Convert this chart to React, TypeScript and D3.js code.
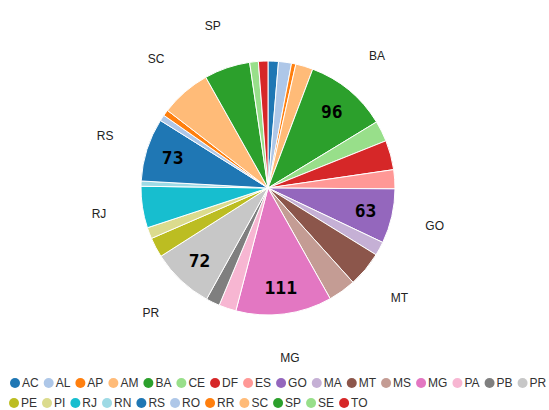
import React, { useRef, useEffect } from 'react';
import * as d3 from 'd3';

const states = ['AC', 'AL', 'AP', 'AM', 'BA', 'CE', 'DF', 'ES', 'GO', 'MA', 'MT', 'MS', 'MG', 'PA', 'PB', 'PR',
  'PE', 'PI', 'RJ', 'RN', 'RS', 'RO', 'RR', 'SC', 'SP', 'SE', 'TO'];
const counts = [12, 15, 5, 20, 96, 24, 34, 22, 63, 16, 41, 32, 111, 20, 16, 72,
  23, 13, 48, 6, 73, 7, 7, 58, 53, 10, 11];

// old d3 category20
const palette = ['#1f77b4', '#aec7e8', '#ff7f0e', '#ffbb78', '#2ca02c', '#98df8a', '#d62728', '#ff9896',
  '#9467bd', '#c5b0d5', '#8c564b', '#c49c94', '#e377c2', '#f7b6d2', '#7f7f7f', '#c7c7c7',
  '#bcbd22', '#dbdb8d', '#17becf', '#9edae5'];

const App = () => {
  const svgRef = useRef(null);

  useEffect(() => {
    d3.select(svgRef.current).selectAll('*').remove();
    const svg = d3.select(svgRef.current);
    const width = 549;
    const cx = 268;
    const cy = 188;
    const radius = 127;

    const data = states.map((s, i) => ({ name: s, value: counts[i] }));
    const color = d3.scaleOrdinal().domain(states).range(palette);

    const pie = d3.pie().sort(null).value(d => d.value);
    const arc = d3.arc().innerRadius(0).outerRadius(radius);
    const valueArc = d3.arc().innerRadius(100).outerRadius(100);
    const nameArc = d3.arc().innerRadius(171).outerRadius(171);
    const arcs = pie(data);

    const g = svg.append('g').attr('transform', `translate(${cx},${cy})`);

    g.selectAll('path')
      .data(arcs)
      .enter().append('path')
      .attr('d', arc)
      .attr('fill', d => color(d.data.name))
      .attr('stroke', '#fff')
      .attr('stroke-width', 1);

    // value labels on the big slices
    g.selectAll('.val')
      .data(arcs.filter(d => d.data.value >= 60))
      .enter().append('text')
      .attr('class', 'val')
      .attr('transform', d => `translate(${valueArc.centroid(d)})`)
      .attr('text-anchor', 'middle')
      .attr('dominant-baseline', 'central')
      .style('font-family', '"DejaVu Sans Mono", monospace')
      .style('font-weight', 'bold')
      .style('font-size', '18px')
      .attr('fill', '#000')
      .text(d => d.data.value);

    // state names outside
    g.selectAll('.name')
      .data(arcs.filter(d => d.data.value >= 40))
      .enter().append('text')
      .attr('class', 'name')
      .attr('transform', d => `translate(${nameArc.centroid(d)})`)
      .attr('text-anchor', 'middle')
      .attr('dominant-baseline', 'central')
      .style('font-family', '"Liberation Sans", Arial, sans-serif')
      .style('font-size', '12px')
      .attr('fill', '#222')
      .text(d => d.data.name);

    // legend, flowing left to right, wraps when text would run off
    const legend = svg.append('g');
    let x = 15;
    let y = 383;
    states.forEach(s => {
      const item = legend.append('g');
      const c = item.append('circle').attr('r', 5).attr('fill', color(s));
      const t = item.append('text')
        .attr('dominant-baseline', 'central')
        .style('font-family', '"Liberation Sans", Arial, sans-serif')
        .style('font-size', '12px')
        .attr('fill', '#333')
        .text(s);
      const w = t.node().getComputedTextLength();
      if (x + 7 + w > width) {
        x = 14;
        y += 20;
      }
      c.attr('cx', x).attr('cy', y);
      t.attr('x', x + 7).attr('y', y);
      x = x + 7 + w + 10;
    });
  }, []);

  return (
    <div style={{ position: 'absolute', left: 0, top: 0, width: '549px', height: '410px' }}>
      <svg ref={svgRef} width={549} height={410}></svg>
    </div>
  );
};

export default App;
